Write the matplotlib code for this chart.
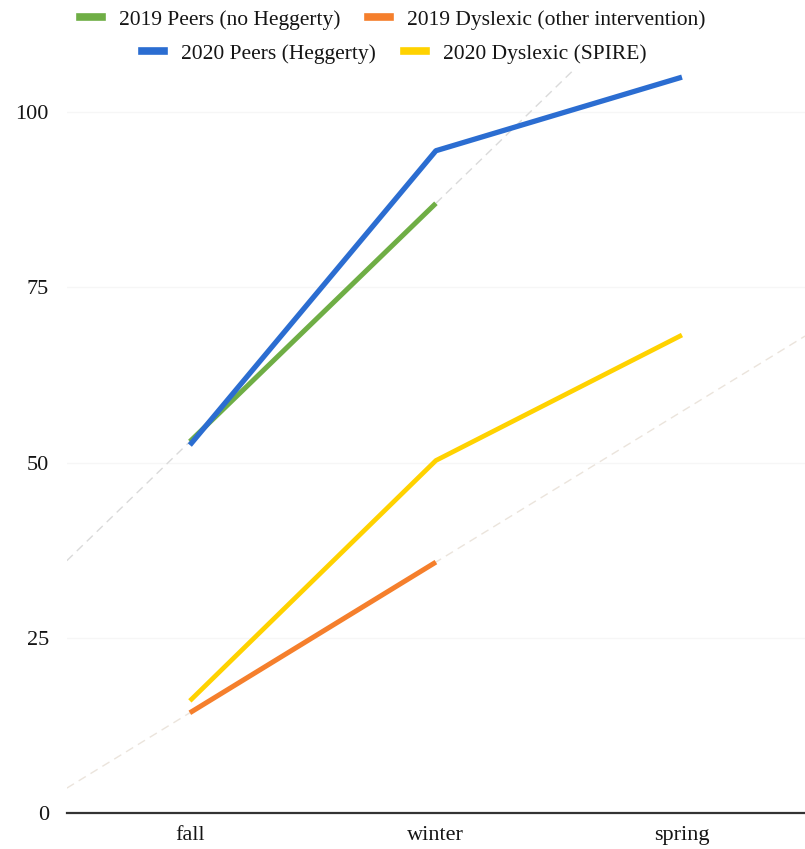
import matplotlib.pyplot as plt
from matplotlib.lines import Line2D
import numpy as np

plt.rcParams['font.family'] = ['Liberation Serif', 'DejaVu Serif']

seasons = ["fall", "winter", "spring"]

peers_2019 = [53, 87]
dyslexic_2019 = [14.3, 35.8]
peers_2020 = [52.5, 94.5, 105]
dyslexic_2020 = [16, 50.3, 68.2]

green = "#6fae45"
orange = "#f57f2c"
blue = "#2b6dd1"
yellow = "#ffd200"


def trend(ax, vals, color):
    # linear trendline through the 2019 points, run across the whole plot
    x = np.arange(len(vals))
    k, b = np.polyfit(x, vals, 1)
    xs = np.array([-0.5, 2.5])
    ax.plot(xs, k * xs + b, color=color, lw=1.0, ls=(0, (6, 4)), zorder=1)


fig = plt.figure(figsize=(8.05, 8.49), dpi=100)
ax = fig.add_axes([0.083, 0.0424, 0.917, 0.875])

for yv in [25, 50, 75, 100]:
    ax.axhline(yv, color="#f6f6f6", lw=1.0, zorder=0)

trend(ax, peers_2019, "#dadada")
trend(ax, dyslexic_2019, "#ebe4dc")

ax.plot(range(2), peers_2019, color=green, lw=3.6, solid_capstyle="butt", zorder=3)
ax.plot(range(2), dyslexic_2019, color=orange, lw=3.6, solid_capstyle="butt", zorder=3)
ax.plot(range(3), peers_2020, color=blue, lw=3.8, solid_capstyle="butt", zorder=4)
ax.plot(range(3), dyslexic_2020, color=yellow, lw=3.4, solid_capstyle="butt", zorder=4)

ax.set_xlim(-0.5, 2.5)
ax.set_ylim(0, 106)
ax.set_xticks(range(3))
ax.set_xticklabels(seasons)
ax.set_yticks([0, 25, 50, 75, 100])
ax.tick_params(length=0, labelsize=16, colors="#151515")
ax.tick_params(axis="y", pad=13)
ax.tick_params(axis="x", pad=9)
for side in ["top", "right", "left"]:
    ax.spines[side].set_visible(False)
ax.spines["bottom"].set_color("#333333")
ax.spines["bottom"].set_linewidth(1.6)

def handle(c):
    return Line2D([0], [0], color=c, lw=5.5)

leg_kw = dict(loc="center", ncol=2, frameon=False, fontsize=15.5, handlelength=1.0,
              handletextpad=0.8, columnspacing=1.3, labelcolor="#151515")
fig.legend([handle(green), handle(orange)],
           ["2019 Peers (no Heggerty)", "2019 Dyslexic (other intervention)"],
           bbox_to_anchor=(0.488, 0.977), **leg_kw)
fig.legend([handle(blue), handle(yellow)],
           ["2020 Peers (Heggerty)", "2020 Dyslexic (SPIRE)"],
           bbox_to_anchor=(0.49, 0.937), **leg_kw)

fig.savefig("out.png", dpi=100)
